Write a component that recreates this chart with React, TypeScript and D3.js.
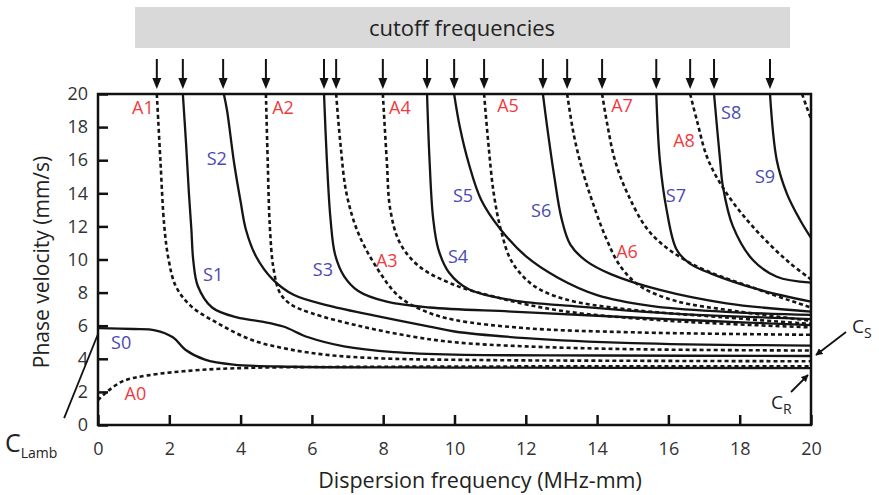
import React, { useEffect, useRef } from "react";
import * as d3 from "d3";

type Pt = [number, number];

// cutoff frequencies marked with arrows above the plot (MHz-mm)
const cutoffs = [1.65, 2.38, 3.51, 4.71, 6.34, 6.68, 7.99, 9.23, 9.99, 10.83, 12.48, 13.16, 14.14, 15.66, 16.61, 17.28, 18.85];

const xTicks = [0, 2, 4, 6, 8, 10, 12, 14, 16, 18, 20];
const yTicks = [0, 2, 4, 6, 8, 10, 12, 14, 16, 18, 20];

// symmetric modes, [frequency, phase velocity]
const S0: Pt[] = [[0, 5.85], [1, 5.8], [1.6, 5.72], [2.1, 5.3], [2.45, 4.55], [3, 3.95], [3.8, 3.65], [5.5, 3.52], [10, 3.47], [20, 3.44]];
const S1: Pt[] = [[2.38, 20], [2.47, 17], [2.55, 14], [2.62, 11.8], [2.67, 10], [2.8, 8.4], [3.2, 7.1], [3.9, 6.5], [4.6, 6.25], [5.2, 5.95], [5.9, 5.3], [6.9, 4.75], [8.3, 4.4], [10, 4.25], [14, 4.2], [20, 4.17]];
const S2: Pt[] = [[3.53, 20], [3.62, 19], [3.82, 15.8], [4.0, 13.5], [4.15, 11.8], [4.43, 10.2], [4.9, 8.8], [5.5, 7.85], [6.5, 7.2], [7.9, 6.55], [9.3, 5.95], [10, 5.65], [12, 5.25], [15, 4.95], [20, 4.8]];
const S3: Pt[] = [[6.34, 20], [6.42, 16], [6.52, 12.5], [6.65, 10.3], [6.9, 9.0], [7.3, 8.1], [8.1, 7.45], [9.3, 7.1], [11.6, 6.85], [14, 6.6], [17, 6.3], [20, 6.04]];
const S4: Pt[] = [[9.23, 20], [9.3, 16], [9.4, 12.5], [9.55, 10.6], [9.85, 9.2], [10.4, 8.2], [11.6, 7.55], [13.5, 7.15], [16, 6.75], [20, 6.4]];
const S5: Pt[] = [[9.99, 20], [10.15, 18], [10.4, 15.8], [10.75, 13.6], [11.3, 11.8], [12.0, 10.2], [12.9, 8.9], [14.0, 7.85], [15.5, 7.2], [17.5, 6.85], [20, 6.65]];
const S6: Pt[] = [[12.48, 20], [12.6, 18], [12.8, 15], [13.0, 12.5], [13.25, 10.9], [13.7, 9.9], [14.4, 9.1], [15.76, 8.16], [17.63, 7.35], [20, 6.85]];
const S7: Pt[] = [[15.66, 20], [15.76, 16], [15.95, 13], [16.23, 10.6], [16.6, 9.75], [17.2, 9.15], [18.57, 8.16], [20, 7.45]];
const S8: Pt[] = [[17.28, 20], [17.45, 16], [17.53, 14.4], [17.81, 12], [18.37, 9.97], [19.04, 8.96], [20, 8.6]];
const S9: Pt[] = [[18.85, 20], [19.04, 16], [19.32, 14], [19.69, 12.4], [20, 11.3]];

// antisymmetric modes
const A0: Pt[] = [[0, 1.5], [0.25, 2.0], [0.7, 2.65], [1.4, 3.0], [2.7, 3.3], [4.2, 3.45], [8, 3.52], [20, 3.55]];
const A1: Pt[] = [[1.65, 20], [1.75, 16], [1.86, 12], [1.98, 10], [2.18, 8.4], [2.6, 7.2], [3.4, 6.1], [4.3, 5.15], [5.3, 4.6], [6.5, 4.22], [8, 4.02], [11, 3.92], [15, 3.88], [20, 3.85]];
const A2: Pt[] = [[4.71, 20], [4.76, 16], [4.82, 12], [4.92, 9.5], [5.1, 8.0], [5.4, 7.3], [6.0, 6.75], [7.4, 5.95], [8.8, 5.35], [10, 5.0], [12, 4.75], [15, 4.58], [20, 4.5]];
const A3: Pt[] = [[6.68, 20], [6.8, 17], [6.97, 14], [7.3, 11.6], [7.85, 9.4], [8.45, 7.75], [9.2, 6.85], [10, 6.35], [12, 5.85], [15, 5.6], [20, 5.45]];
const A4: Pt[] = [[7.99, 20], [8.1, 16], [8.2, 13], [8.47, 11], [9.0, 9.6], [9.9, 8.55], [11.2, 7.7], [13, 6.9], [16, 6.3], [20, 5.9]];
const A5: Pt[] = [[10.83, 20], [10.95, 17], [11.1, 14], [11.3, 11.8], [11.6, 9.9], [12.2, 8.45], [13.1, 7.6], [14.8, 7.0], [17.6, 6.5], [20, 6.1]];
const A6: Pt[] = [[13.16, 20], [13.35, 17.5], [13.6, 15.3], [13.9, 13.3], [14.25, 11.3], [14.65, 9.6], [15.2, 8.4], [16.2, 7.5], [18, 6.85], [20, 6.3]];
const A7: Pt[] = [[14.14, 20], [14.3, 18], [14.5, 16], [14.85, 14], [15.5, 11.6], [16.6, 9.8], [18.5, 8.2], [20, 7.1]];
const A8: Pt[] = [[16.61, 20], [16.8, 18.4], [17.1, 16.1], [17.6, 14.1], [18.2, 12.4], [18.8, 11.0], [19.4, 9.8], [20, 8.8]];
const A9: Pt[] = [[19.75, 20], [19.88, 19.2], [20, 18.5]];

const symmetric = [S0, S1, S2, S3, S4, S5, S6, S7, S8, S9];
const antisymmetric = [A0, A1, A2, A3, A4, A5, A6, A7, A8, A9];

// mode labels, placed at [frequency, velocity]
const modeLabels: { text: string; at: Pt }[] = [
  { text: "A1", at: [1.26, 19.15] },
  { text: "A2", at: [5.19, 19.15] },
  { text: "A4", at: [8.47, 19.2] },
  { text: "A5", at: [11.5, 19.27] },
  { text: "A7", at: [14.7, 19.27] },
  { text: "S8", at: [17.76, 18.85] },
  { text: "A8", at: [16.44, 17.16] },
  { text: "S2", at: [3.33, 16.1] },
  { text: "S9", at: [18.71, 14.98] },
  { text: "S5", at: [10.24, 13.84] },
  { text: "S7", at: [16.21, 13.84] },
  { text: "S6", at: [12.43, 12.93] },
  { text: "A6", at: [14.84, 10.45] },
  { text: "S4", at: [10.1, 10.15] },
  { text: "A3", at: [8.1, 9.9] },
  { text: "S3", at: [6.31, 9.37] },
  { text: "S1", at: [3.23, 9.1] },
  { text: "S0", at: [0.65, 5.0] },
  { text: "A0", at: [1.05, 1.9] },
];

const FONT = "'Open Sans', 'DejaVu Sans', sans-serif";

const App = () => {
  const svgRef = useRef<SVGSVGElement>(null);

  useEffect(() => {
    const width = 879;
    const height = 495;
    const left = 98;
    const right = 811;
    const top = 94;
    const bottom = 425;

    const x = d3.scaleLinear().domain([0, 20]).range([left, right]);
    const y = d3.scaleLinear().domain([0, 20]).range([bottom, top]);

    const svg = d3.select(svgRef.current).attr("width", width).attr("height", height);
    svg.selectAll("*").remove();

    svg.append("rect").attr("width", width).attr("height", height).attr("fill", "#fff");

    const defs = svg.append("defs");
    defs
      .append("clipPath")
      .attr("id", "plot-clip")
      .append("rect")
      .attr("x", left)
      .attr("y", top)
      .attr("width", right - left)
      .attr("height", bottom - top);
    defs
      .append("marker")
      .attr("id", "head")
      .attr("viewBox", "0 0 10 10")
      .attr("refX", 9)
      .attr("refY", 5)
      .attr("markerWidth", 4)
      .attr("markerHeight", 4)
      .attr("orient", "auto")
      .append("path")
      .attr("d", "M0,0 L10,5 L0,10 Z")
      .attr("fill", "#111");

    // title banner
    svg.append("rect").attr("x", 135).attr("y", 7).attr("width", 655).attr("height", 41).attr("fill", "#d9d9d9");
    svg
      .append("text")
      .attr("x", 462)
      .attr("y", 36)
      .attr("text-anchor", "middle")
      .attr("font-family", FONT)
      .attr("font-size", 22)
      .attr("fill", "#222")
      .text("cutoff frequencies");

    // cutoff arrows
    const arrows = svg.append("g");
    cutoffs.forEach((f) => {
      const cx = x(f);
      arrows.append("line").attr("x1", cx).attr("x2", cx).attr("y1", 59).attr("y2", 80).attr("stroke", "#111").attr("stroke-width", 2);
      arrows
        .append("path")
        .attr("d", `M${cx - 4.5},78 L${cx + 4.5},78 L${cx},89 Z`)
        .attr("fill", "#111");
    });

    // axes
    const xAxis = svg
      .append("g")
      .attr("transform", `translate(0,${bottom})`)
      .call(d3.axisBottom(x).tickValues(xTicks).tickSize(-10).tickPadding(17));
    const yAxis = svg
      .append("g")
      .attr("transform", `translate(${left},0)`)
      .call(d3.axisLeft(y).tickValues(yTicks).tickSize(-10).tickPadding(10));
    [xAxis, yAxis].forEach((g) => {
      g.select(".domain").remove();
      g.selectAll(".tick line").attr("stroke", "#111").attr("stroke-width", 2.5);
      g.selectAll(".tick text").attr("font-family", FONT).attr("font-size", 18).attr("fill", "#333");
    });

    // curves
    const line = d3
      .line<Pt>()
      .x((d) => x(d[0]))
      .y((d) => y(d[1]))
      .curve(d3.curveCatmullRom.alpha(0.5));

    const curves = svg.append("g").attr("clip-path", "url(#plot-clip)");
    antisymmetric.forEach((pts) => {
      curves
        .append("path")
        .attr("d", line(pts))
        .attr("fill", "none")
        .attr("stroke", "#151515")
        .attr("stroke-width", 2.6)
        .attr("stroke-dasharray", "4,3");
    });
    symmetric.forEach((pts) => {
      curves
        .append("path")
        .attr("d", line(pts))
        .attr("fill", "none")
        .attr("stroke", "#151515")
        .attr("stroke-width", 2.3);
    });

    // frame
    svg
      .append("rect")
      .attr("x", left)
      .attr("y", top)
      .attr("width", right - left)
      .attr("height", bottom - top)
      .attr("fill", "none")
      .attr("stroke", "#111")
      .attr("stroke-width", 2.5);

    // mode labels
    svg
      .append("g")
      .selectAll("text")
      .data(modeLabels)
      .join("text")
      .attr("x", (d) => x(d.at[0]))
      .attr("y", (d) => y(d.at[1]))
      .attr("dy", "0.35em")
      .attr("text-anchor", "middle")
      .attr("font-family", FONT)
      .attr("font-size", 18)
      .attr("fill", (d) => (d.text[0] === "A" ? "#ef3b3f" : "#4a4ab2"))
      .text((d) => d.text);

    // axis titles
    svg
      .append("text")
      .attr("x", 480)
      .attr("y", 488)
      .attr("text-anchor", "middle")
      .attr("font-family", FONT)
      .attr("font-size", 21.5)
      .attr("fill", "#222")
      .text("Dispersion frequency (MHz-mm)");
    svg
      .append("text")
      .attr("transform", "translate(49,262) rotate(-90)")
      .attr("text-anchor", "middle")
      .attr("font-family", FONT)
      .attr("font-size", 21)
      .attr("fill", "#222")
      .text("Phase velocity (mm/s)");

    // C_Lamb pointer
    svg
      .append("line")
      .attr("x1", x(-0.95))
      .attr("y1", y(0.42))
      .attr("x2", x(0))
      .attr("y2", y(5.5))
      .attr("stroke", "#111")
      .attr("stroke-width", 1.8);
    const cl = svg.append("text").attr("x", 5).attr("y", 452).attr("font-family", FONT).attr("fill", "#222");
    cl.append("tspan").attr("font-size", 25).text("C");
    cl.append("tspan").attr("font-size", 14).attr("dy", 6).text("Lamb");

    // c_S pointer
    svg
      .append("line")
      .attr("x1", 846)
      .attr("y1", 332)
      .attr("x2", 816)
      .attr("y2", 355)
      .attr("stroke", "#111")
      .attr("stroke-width", 1.8)
      .attr("marker-end", "url(#head)");
    const cs = svg.append("text").attr("x", 852).attr("y", 333).attr("font-family", FONT).attr("fill", "#222");
    cs.append("tspan").attr("font-size", 19).text("C");
    cs.append("tspan").attr("font-size", 14).attr("dy", 5).text("S");

    // c_R pointer
    svg
      .append("line")
      .attr("x1", 791)
      .attr("y1", 392)
      .attr("x2", 808)
      .attr("y2", 375)
      .attr("stroke", "#111")
      .attr("stroke-width", 1.8)
      .attr("marker-end", "url(#head)");
    const cr = svg.append("text").attr("x", 771).attr("y", 409).attr("font-family", FONT).attr("fill", "#222");
    cr.append("tspan").attr("font-size", 19).text("C");
    cr.append("tspan").attr("font-size", 14).attr("dy", 5).text("R");
  }, []);

  return <svg ref={svgRef} style={{ position: "absolute", left: 0, top: 0, display: "block" }}></svg>;
};

export default App;
